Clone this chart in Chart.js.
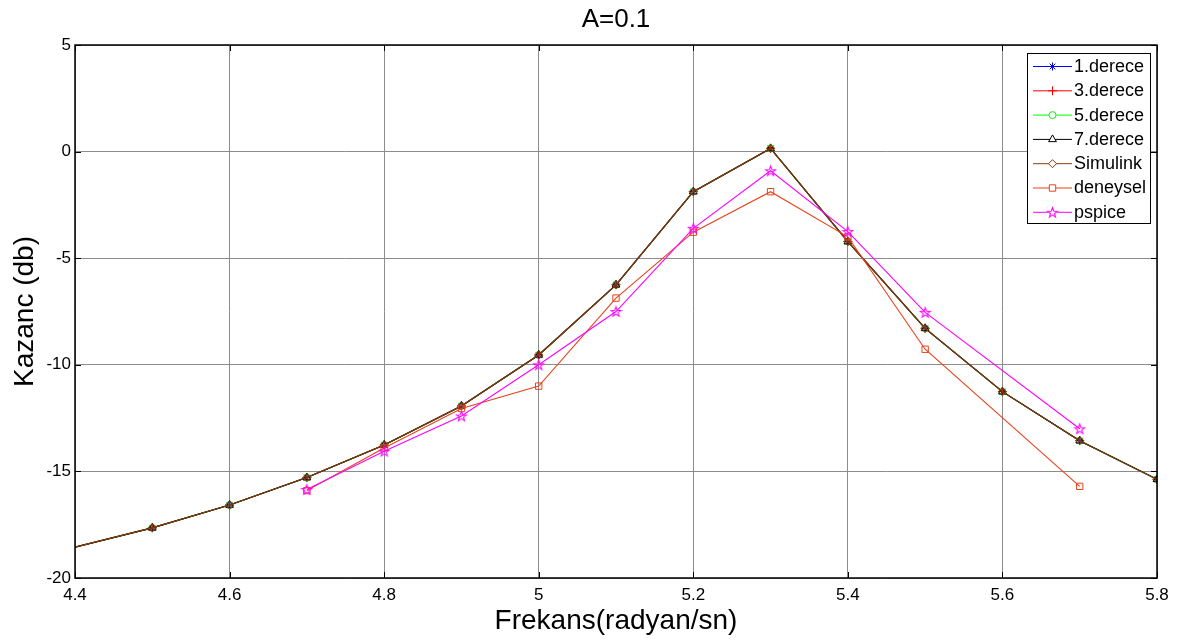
<!DOCTYPE html>
<html>
<head>
<meta charset="utf-8">
<script src="https://cdn.jsdelivr.net/npm/chart.js@4.4.1/dist/chart.umd.min.js"></script>
<style>
  html, body { margin: 0; padding: 0; background: #ffffff; }
  #wrap { width: 1177px; height: 643px; }
</style>
</head>
<body>
<div id="wrap"><canvas id="c" width="1177" height="643"></canvas></div>
<script>
// Gain (dB) versus frequency (rad/s) for amplitude A = 0.1
const FONT = "'Liberation Sans', Arial, Helvetica, sans-serif";

// model frequencies (rad/s); the first point lies left of the visible range
const freqModel = [4.3, 4.5, 4.6, 4.7, 4.8, 4.9, 5.0, 5.1, 5.2, 5.3, 5.4, 5.5, 5.6, 5.7, 5.8];
const derece1  = [-19.45, -17.65, -16.58, -15.29, -13.76, -11.93, -9.54, -6.25, -1.88, 0.15, -4.22, -8.29, -11.26, -13.56, -15.37];
const derece3  = [-19.45, -17.65, -16.58, -15.29, -13.76, -11.93, -9.54, -6.25, -1.88, 0.15, -4.22, -8.29, -11.26, -13.56, -15.37];
const derece5  = [-19.45, -17.65, -16.58, -15.29, -13.76, -11.93, -9.54, -6.25, -1.88, 0.15, -4.22, -8.29, -11.26, -13.56, -15.37];
const derece7  = [-19.45, -17.65, -16.58, -15.29, -13.76, -11.93, -9.54, -6.25, -1.88, 0.15, -4.22, -8.29, -11.26, -13.56, -15.37];
const simulink = [-19.45, -17.65, -16.58, -15.29, -13.76, -11.93, -9.54, -6.25, -1.88, 0.15, -4.22, -8.29, -11.26, -13.56, -15.37];

// measured (deneysel) and PSpice frequencies
const freqMeas = [4.7, 4.8, 4.9, 5.0, 5.1, 5.2, 5.3, 5.4, 5.5, 5.7];
const deneysel = [-15.9, -13.9, -12.05, -11.0, -6.87, -3.78, -1.88, -4.0, -9.27, -15.7];
const pspice   = [-15.85, -14.05, -12.4, -10.0, -7.5, -3.6, -0.9, -3.75, -7.54, -13.0];

const xTicks = [4.4, 4.6, 4.8, 5.0, 5.2, 5.4, 5.6, 5.8];
const yTicks = [-20, -15, -10, -5, 0, 5];

const titleText = 'A=0.1';
const xTitle = 'Frekans(radyan/sn)';
const yTitle = 'Kazanc (db)';
const seriesNames = ['1.derece', '3.derece', '5.derece', '7.derece', 'Simulink', 'deneysel', 'pspice'];

// hollow five-pointed star used as a marker
function makePentagram(color) {
  const s = 13;
  const cv = document.createElement('canvas');
  cv.width = s; cv.height = s;
  const g = cv.getContext('2d');
  const cx = s / 2, cy = s / 2 + 0.5, R = 5.2, r = 2.1;
  g.beginPath();
  for (let i = 0; i < 10; i++) {
    const a = -Math.PI / 2 + i * Math.PI / 5;
    const rr = i % 2 === 0 ? R : r;
    const px = cx + rr * Math.cos(a), py = cy + rr * Math.sin(a);
    if (i === 0) g.moveTo(px, py); else g.lineTo(px, py);
  }
  g.closePath();
  g.strokeStyle = color;
  g.lineWidth = 1.1;
  g.stroke();
  return cv;
}
const starMarker = makePentagram('#ff00ff');

function pts(xs, ys) { return xs.map((x, i) => ({ x: x, y: ys[i] })); }

const styles = [
  { color: '#0000ff', pointStyle: 'star',     radius: 4 },
  { color: '#ff0000', pointStyle: 'cross',    radius: 4.5 },
  { color: '#00ff00', pointStyle: 'circle',   radius: 3.5 },
  { color: '#000000', pointStyle: 'triangle', radius: 4.5 },
  { color: '#8b3a12', pointStyle: 'rectRot',  radius: 4 },
  { color: '#e8431c', pointStyle: 'rect',     radius: 4.5 },
  { color: '#ff00ff', pointStyle: starMarker, radius: 5 }
];
const seriesData = [
  pts(freqModel, derece1), pts(freqModel, derece3), pts(freqModel, derece5),
  pts(freqModel, derece7), pts(freqModel, simulink),
  pts(freqMeas, deneysel), pts(freqMeas, pspice)
];

const datasets = seriesNames.map((name, i) => ({
  label: name,
  data: seriesData[i],
  borderColor: styles[i].color,
  backgroundColor: 'rgba(0,0,0,0)',
  pointBorderColor: styles[i].color,
  pointBackgroundColor: 'rgba(0,0,0,0)',
  pointStyle: styles[i].pointStyle,
  pointRadius: styles[i].radius,
  pointBorderWidth: 1,
  borderWidth: 1.1,
  tension: 0,
  order: seriesNames.length - i
}));

// title, box, inward ticks and the legend panel
const framePlugin = {
  id: 'frame',
  afterDraw(chart) {
    const ctx = chart.ctx;
    const a = chart.chartArea;
    const xs = chart.scales.x, ys = chart.scales.y;
    ctx.save();
    ctx.strokeStyle = '#000000';
    ctx.lineWidth = 1;
    ctx.beginPath();
    xTicks.forEach(v => {
      const px = Math.round(xs.getPixelForValue(v)) + 0.5;
      ctx.moveTo(px, a.bottom); ctx.lineTo(px, a.bottom - 6);
      ctx.moveTo(px, a.top); ctx.lineTo(px, a.top + 6);
    });
    yTicks.forEach(v => {
      const py = Math.round(ys.getPixelForValue(v)) + 0.5;
      ctx.moveTo(a.left, py); ctx.lineTo(a.left + 6, py);
      ctx.moveTo(a.right, py); ctx.lineTo(a.right - 6, py);
    });
    ctx.stroke();
    ctx.lineWidth = 1.5;
    ctx.strokeRect(a.left, a.top, a.right - a.left, a.bottom - a.top);

    // title
    ctx.fillStyle = '#000000';
    ctx.font = '26px ' + FONT;
    ctx.textAlign = 'center';
    ctx.textBaseline = 'middle';
    ctx.fillText(titleText, (a.left + a.right) / 2, 20);

    // legend
    const bx = 1027, by = 53, bw = 123, bh = 170, row = 24.3;
    ctx.fillStyle = '#ffffff';
    ctx.fillRect(bx, by, bw, bh);
    ctx.lineWidth = 1;
    ctx.strokeStyle = '#000000';
    ctx.strokeRect(bx + 0.5, by + 0.5, bw, bh);
    ctx.font = '18px ' + FONT;
    ctx.textAlign = 'left';
    seriesNames.forEach((name, i) => {
      const y = by + 13 + i * row;
      const st = styles[i];
      ctx.strokeStyle = st.color;
      ctx.lineWidth = 1;
      ctx.beginPath();
      ctx.moveTo(bx + 6, y + 0.5); ctx.lineTo(bx + 45, y + 0.5);
      ctx.stroke();
      if (typeof st.pointStyle === 'string') {
        ctx.fillStyle = '#ffffff';
        Chart.helpers.drawPoint(ctx, {
          pointStyle: st.pointStyle, radius: st.radius, borderWidth: 1, rotation: 0
        }, bx + 25.5, y + 0.5);
      } else {
        ctx.fillStyle = '#ffffff';
        ctx.fillRect(bx + 21, y - 4, 9, 9);
        ctx.drawImage(st.pointStyle, bx + 25.5 - st.pointStyle.width / 2, y + 0.5 - st.pointStyle.height / 2);
      }
      ctx.fillStyle = '#000000';
      ctx.fillText(name, bx + 47, y + 1);
    });
    ctx.restore();
  }
};

new Chart(document.getElementById('c'), {
  type: 'line',
  data: { datasets: datasets },
  options: {
    responsive: false,
    animation: false,
    events: [],
    layout: { padding: { left: 0, right: 20, top: 45, bottom: 0 } },
    plugins: { legend: { display: false }, title: { display: false }, tooltip: { enabled: false } },
    scales: {
      x: {
        type: 'linear',
        min: 4.4, max: 5.8,
        afterBuildTicks: s => { s.ticks = xTicks.map(v => ({ value: v })); },
        afterFit: s => { s.height = 65; },
        grid: { color: '#8c8c8c', lineWidth: 1, drawTicks: false },
        border: { display: false },
        ticks: {
          padding: 7,
          color: '#000000',
          font: { family: FONT, size: 17 },
          callback: v => String(Number(v.toFixed(1)))
        },
        title: {
          display: true, text: xTitle, color: '#000000',
          font: { family: FONT, size: 28 },
          padding: { top: 0, bottom: 5 }
        }
      },
      y: {
        type: 'linear',
        min: -20, max: 5,
        afterBuildTicks: s => { s.ticks = yTicks.map(v => ({ value: v })); },
        afterFit: s => { s.width = 75; },
        grid: { color: '#8c8c8c', lineWidth: 1, drawTicks: false },
        border: { display: false },
        ticks: {
          padding: 4,
          color: '#000000',
          font: { family: FONT, size: 17 },
          callback: v => String(v)
        },
        title: {
          display: true, text: yTitle, color: '#000000',
          font: { family: FONT, size: 28 },
          padding: { top: 8, bottom: 0 }
        }
      }
    }
  },
  plugins: [framePlugin]
});
</script>
</body>
</html>
